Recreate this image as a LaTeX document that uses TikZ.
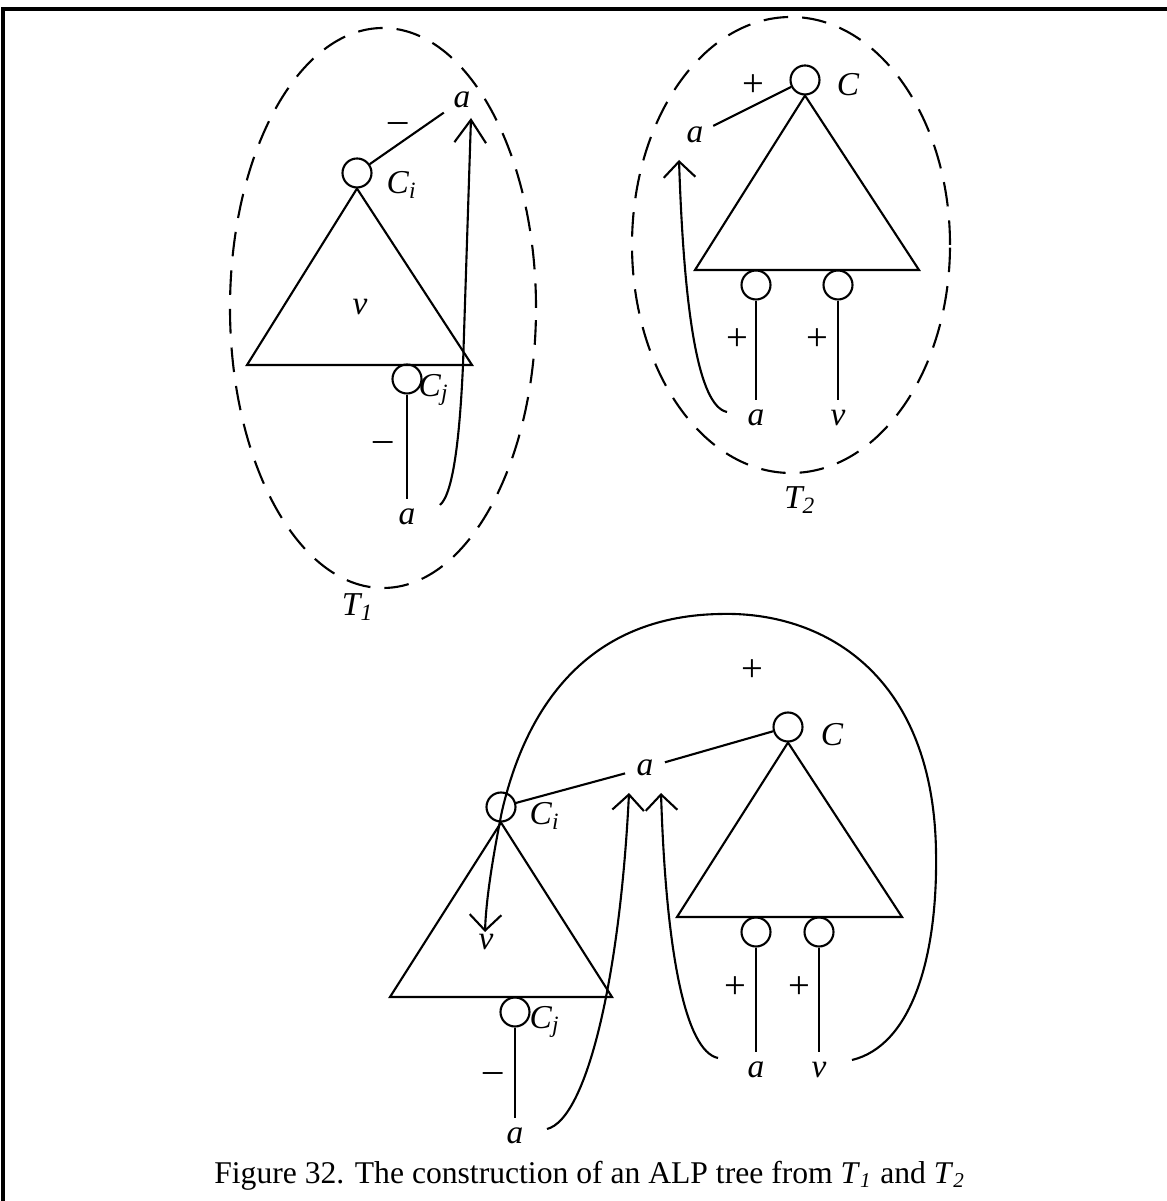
\documentclass[tikz,border=0pt]{standalone}
\usepackage{fontspec}
\setmainfont{Liberation Serif}
\usetikzlibrary{arrows.meta}
\newcommand{\sublab}[2]{\textit{#1}\textsubscript{\textit{#2}}}
\tikzset{
  vtx/.style={draw, circle, minimum size=2.9mm, inner sep=0pt},
  lbl/.style={font=\fontsize{9.5}{11}\selectfont\itshape, inner sep=2.5pt},
  sgn/.style={font=\fontsize{11}{13}\selectfont, inner sep=0.5pt},
  oval/.style={dash pattern=on 7pt off 4pt},
  barb/.style={-{Straight Barb[length=4.5pt,width=9pt]}}
}
\begin{document}
\begin{tikzpicture}[line width=0.6pt]
  \useasboundingbox (0,0) rectangle (11.67,12.01);
  % frame
  \draw[line width=1pt] (0.03,0) -- (0.03,11.92) -- (11.67,11.92);

  % tree T1
  \draw[oval] (3.83,8.93) ellipse [x radius=1.53, y radius=2.80];
  \node[vtx] (ci1) at (3.57,10.28) {};
  \node[lbl] (a1) at (4.62,11.01) {a};
  \node[sgn] at (3.98,10.73) {\textendash};
  \node[lbl] at (4.02,10.16) {\sublab{C}{i}};
  \draw (ci1.south) -- (2.47,8.36) -- (4.72,8.36) -- cycle;
  \node[lbl] at (3.60,8.94) {v};
  \node[vtx] (cj1) at (4.07,8.22) {};
  \node[lbl] at (4.34,8.11) {\sublab{C}{j}};
  \node[lbl] (aj1) at (4.07,6.84) {a};
  \node[sgn] at (3.83,7.54) {\textendash};
  \node[lbl] at (3.58,5.94) {\sublab{T}{1}};
  \draw (ci1) -- (a1);
  \draw (cj1) -- (aj1);
  \coordinate (h1) at (4.40,6.96);
  \coordinate (p1) at (4.71,10.83);
  \draw[-{Straight Barb[length=6.5pt,width=9pt]}] (h1) .. controls (4.54,7.08) and (4.60,7.7) .. (4.63,8.36) -- (p1);

  % tree T2
  \draw[oval] (7.91,9.56) ellipse [x radius=1.59, y radius=2.28];
  \node[vtx] (c2) at (8.05,11.21) {};
  \node[lbl] at (8.48,11.16) {C};
  \node[lbl] (a2) at (6.95,10.66) {a};
  \node[sgn] at (7.53,11.15) {+};
  \draw (c2.south) -- (6.95,9.31) -- (9.19,9.31) -- cycle;
  \node[vtx] (l2a) at (7.56,9.16) {};
  \node[vtx] (l2v) at (8.38,9.16) {};
  \node[lbl] (la2) at (7.56,7.83) {a};
  \node[lbl] (lv2) at (8.38,7.83) {v};
  \node[sgn] at (7.37,8.61) {+};
  \node[sgn] at (8.17,8.61) {+};
  \node[lbl] at (8.00,7.01) {\sublab{T}{2}};
  \draw (c2) -- (a2);
  \draw (l2a) -- (la2);
  \draw (l2v) -- (lv2);
  \coordinate (h2) at (7.27,7.89);
  \coordinate (p2) at (6.79,10.41);
  \draw[barb] (h2) .. controls (6.98,7.95) and (6.84,8.9) .. (p2);

  % combined tree
  \node[vtx] (cb) at (7.88,4.74) {};
  \node[lbl] at (8.32,4.66) {C};
  \node[lbl, inner sep=3pt] (ab) at (6.45,4.33) {a};
  \node[vtx] (ci) at (5.01,3.94) {};
  \node[lbl] at (5.45,3.85) {\sublab{C}{i}};
  \node[sgn] at (7.52,5.30) {+};
  \draw (ci) -- (ab);
  \draw (ab) -- (cb);
  \draw (ci.south) -- (3.90,2.04) -- (6.12,2.04) -- cycle;
  \node[lbl] at (4.86,2.59) {v};
  \node[vtx] (cj) at (5.15,1.89) {};
  \node[lbl] at (5.45,1.79) {\sublab{C}{j}};
  \node[lbl] (ajb) at (5.15,0.65) {a};
  \node[sgn] at (4.93,1.23) {\textendash};
  \draw (cj) -- (ajb);
  \draw (cb.south) -- (6.77,2.84) -- (9.02,2.84) -- cycle;
  \node[vtx] (lba) at (7.56,2.69) {};
  \node[vtx] (lbv) at (8.19,2.69) {};
  \node[lbl] (lab) at (7.56,1.31) {a};
  \node[lbl] (lvb) at (8.19,1.31) {v};
  \node[sgn] at (7.35,2.13) {+};
  \node[sgn] at (7.99,2.13) {+};
  \draw (lba) -- (lab);
  \draw (lbv) -- (lvb);
  \coordinate (hl) at (5.47,0.72);
  \coordinate (pl) at (6.29,4.08);
  \coordinate (hr) at (7.18,1.43);
  \coordinate (pr) at (6.61,4.08);
  \draw[barb] (hl) .. controls (5.87,0.82) and (6.20,2.25) .. (pl);
  \draw[barb] (hr) .. controls (6.85,1.5) and (6.66,2.5) .. (pr);
  \coordinate (hb) at (8.52,1.41);
  \coordinate (pb) at (4.85,2.69);
  \draw[barb] (hb) .. controls (9.1,1.55) and (9.38,2.4) .. (9.36,3.5)
    .. controls (9.33,5.3) and (8.2,5.9) .. (7.2,5.87)
    .. controls (6.0,5.85) and (5.3,5.1) .. (5.02,3.9)
    .. controls (4.92,3.4) and (4.86,3.0) .. (pb);

  \node[font=\fontsize{9}{11}\selectfont, anchor=base] (cap) at (5.90,0.17)
    {Figure 32. The construction of an ALP tree from \sublab{T}{1} and \sublab{T}{2}};
\end{tikzpicture}
\end{document}
